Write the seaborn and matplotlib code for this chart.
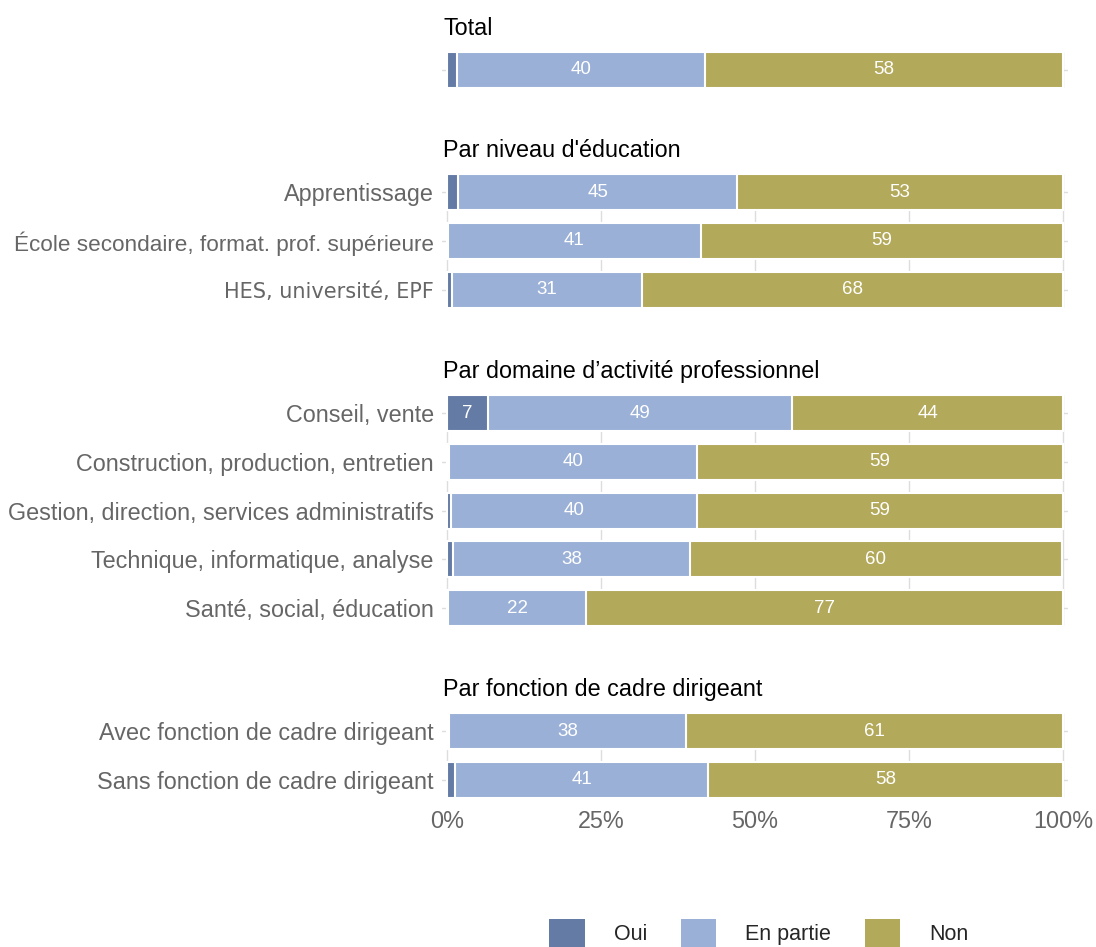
import matplotlib
matplotlib.use("Agg")
import matplotlib.pyplot as plt
import seaborn as sns
import pandas as pd
import numpy as np
from matplotlib.patches import Patch

# ---------------- data ----------------
groups = ["Total", "Par niveau d'éducation",
          "Par domaine d’activité professionnel", "Par fonction de cadre dirigeant"]
categories = [
    ["Total"],
    ["Apprentissage", "École secondaire, format. prof. supérieure", "HES, université, EPF"],
    ["Conseil, vente", "Construction, production, entretien",
     "Gestion, direction, services administratifs", "Technique, informatique, analyse",
     "Santé, social, éducation"],
    ["Avec fonction de cadre dirigeant", "Sans fonction de cadre dirigeant"],
]
oui = [[1.6], [1.8, 0.2, 0.8], [6.7, 0.3, 0.6, 1.0, 0.2], [0.4, 1.3]]
en_partie = [[40.3], [45.3, 41.0, 30.9], [49.3, 40.3, 40.0, 38.4, 22.4], [38.4, 41.1]]
non = [[58.1], [52.9, 58.8, 68.3], [44.0, 59.4, 59.4, 60.4, 77.4], [61.2, 57.6]]
series = ["Oui", "En partie", "Non"]
colors = ["#647BA6", "#9AB0D7", "#B3A95A"]
xticks = [0, 25, 50, 75, 100]
xticklabels = ["0%", "25%", "50%", "75%", "100%"]

# ---------------- style ----------------
sns.set_theme(style="white")
plt.rcParams['font.family'] = ['Liberation Sans', 'DejaVu Sans']

W, H = 1096, 947
fig = plt.figure(figsize=(W / 100, H / 100), dpi=100)
first_centers = [70, 192, 413, 731]   # layout: pixel centre of first row in each panel
row_px = 48.8
bar_w = 0.74
left, right = 442, 1068
grey = "#666666"

for gi, g in enumerate(groups):
    n = len(categories[gi])
    top = first_centers[gi] - bar_w / 2 * row_px
    bot = first_centers[gi] + (n - 1) * row_px + bar_w / 2 * row_px
    ax = fig.add_axes([left / W, 1 - bot / H, (right - left) / W, (bot - top) / H])
    df = pd.DataFrame({"category": categories[gi], "Oui": oui[gi],
                       "En partie": en_partie[gi], "Non": non[gi]})
    df["c_oui"] = df["Oui"]
    df["c_en"] = df["Oui"] + df["En partie"]
    df["c_non"] = df["c_en"] + df["Non"]
    ax.set_axisbelow(True)
    for col, c in [("c_non", colors[2]), ("c_en", colors[1]), ("c_oui", colors[0])]:
        sns.barplot(data=df, x=col, y="category", order=categories[gi], orient="h",
                    color=c, saturation=1, width=bar_w, errorbar=None,
                    edgecolor="white", linewidth=1.5, ax=ax)
    for i, row in df.iterrows():
        starts = [0, row["c_oui"], row["c_en"]]
        vals = [row["Oui"], row["En partie"], row["Non"]]
        for s, v in zip(starts, vals):
            if v >= 4:
                ax.text(s + v / 2, i, f"{int(round(v))}", ha="center", va="center",
                        color="white", fontsize=13.5)
    ax.set_xlim(-0.8, 100.8)
    ax.set_ylim(n - 1 + bar_w / 2, -bar_w / 2)
    ax.set_xticks(xticks)
    ax.grid(True, axis="both", color="#dddddd", linewidth=1)
    for sp in ax.spines.values():
        sp.set_visible(False)
    ax.set_xlabel("")
    ax.set_ylabel("")
    ax.set_title(g, loc="left", fontsize=16.8, color="black", pad=12, x=0.002)
    if gi == 0:
        ax.set_yticklabels([])
    ax.tick_params(axis="y", length=0, pad=6, labelsize=16.8, labelcolor=grey)
    for lab in ax.get_yticklabels():
        if lab.get_text().startswith("HES"):
            lab.set_family("DejaVu Sans")
            lab.set_fontsize(15)
        elif lab.get_text().startswith("École"):
            lab.set_fontsize(16.2)
    if gi == len(groups) - 1:
        ax.set_xticklabels(xticklabels)
        ax.tick_params(axis="x", length=0, pad=9, labelsize=16.8, labelcolor=grey)
    else:
        ax.tick_params(axis="x", length=0, labelbottom=False)

handles = [Patch(facecolor=c, edgecolor="none", label=l) for l, c in zip(series, colors)]
fig.legend(handles=handles, loc="center", bbox_to_anchor=(0.6925, 0.0148), ncol=3,
           frameon=False, fontsize=15.5, handlelength=1.63, handleheight=1.63,
           handletextpad=1.35, columnspacing=1.58)

fig.savefig("out.png", dpi=100)
